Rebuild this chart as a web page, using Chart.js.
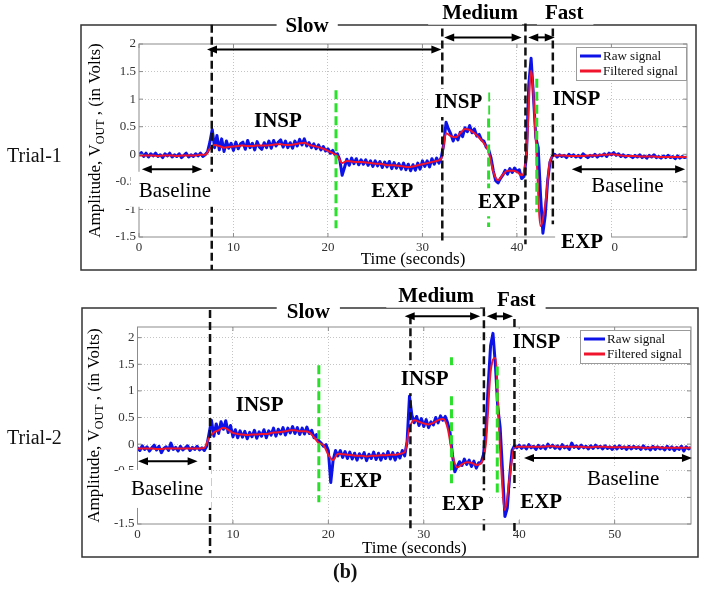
<!DOCTYPE html>
<html>
<head>
<meta charset="utf-8">
<script src="https://cdn.jsdelivr.net/npm/chart.js@4.4.1/dist/chart.umd.min.js"></script>
<style>
body { margin: 0; background: #fff; width: 705px; height: 593px; position: relative; overflow: hidden; font-family: "Liberation Serif", serif; }
canvas { position: absolute; left: 0; }
#trial1 { top: 0; }
#trial2 { top: 285px; }
.side { position: absolute; font-size: 20px; line-height: 20px; color: #111; }
</style>
</head>
<body>
<canvas id="trial1" width="705" height="285"></canvas>
<canvas id="trial2" width="705" height="308"></canvas>
<div class="side" style="left:7px;top:145px">Trial-1</div>
<div class="side" style="left:7px;top:427px">Trial-2</div>
<div class="side" style="left:333px;top:561px;font-weight:bold">(b)</div>
<script>
// axis ticks
var xTicks = [0, 10, 20, 30, 40, 50];
var yTicks = [-1.5, -1, -0.5, 0, 0.5, 1, 1.5, 2];

// sample spacing (seconds)
var rawStep = 0.25;
var filtStep = 0.5;

// Trial-1, raw signal (0 .. 58 s, 4 samples per second)
var raw1 = [
  -0.01, 0.03, -0.04, 0.02, -0.05, 0.01, -0.03, 0.02,          // 0-1
  -0.04, -0.01, -0.06, 0.01, -0.03, 0.02, -0.05, -0.01,        // 2-3
  -0.04, 0.01, -0.06, -0.02, 0.02, -0.05, -0.01, -0.04,        // 4-5
  0.01, -0.03, 0.02, -0.04, -0.01, 0.04, 0.22, 0.45,           // 6-7
  0.12, 0.34, 0.08, 0.28, 0.05, 0.24, 0.11, 0.2,               // 8-9
  0.07, 0.22, 0.1, 0.19, 0.22, 0.09, 0.25, 0.12,               // 10-11
  0.2, 0.08, 0.23, 0.13, 0.09, 0.21, 0.12, 0.24,               // 12-13
  0.11, 0.25, 0.15, 0.22, 0.26, 0.13, 0.24, 0.12,              // 14-15
  0.21, 0.11, 0.24, 0.15, 0.27, 0.17, 0.28, 0.15,              // 16-17
  0.21, 0.12, 0.19, 0.1, 0.17, 0.08, 0.14, 0.06,               // 18-19
  0.1, 0.02, 0.07, -0.01, 0.01, -0.1, -0.38, -0.24,            // 20-21
  -0.09, -0.2, -0.07, -0.17, -0.08, -0.19, -0.1, -0.18,        // 22-23
  -0.1, -0.2, -0.12, -0.22, -0.12, -0.21, -0.13, -0.24,        // 24-25
  -0.14, -0.23, -0.13, -0.26, -0.15, -0.25, -0.17, -0.27,      // 26-27
  -0.16, -0.28, -0.18, -0.3, -0.19, -0.29, -0.16, -0.27,       // 28-29
  -0.12, -0.22, -0.12, -0.23, -0.08, -0.18, -0.07, -0.16,      // 30-31
  -0.05, 0.18, 0.58, 0.46, 0.37, 0.24, 0.35, 0.26,             // 32-33
  0.4, 0.32, 0.48, 0.41, 0.52, 0.39, 0.46, 0.33,               // 34-35
  0.36, 0.26, 0.24, 0.13, 0.09, -0.06, -0.3, -0.48,            // 36-37
  -0.52, -0.44, -0.38, -0.29, -0.36, -0.26, -0.33, -0.25,      // 38-39
  -0.31, -0.28, -0.44, -0.4, -0.05, 1.25, 1.74, 1.05,          // 40-41
  0.3, 0.12, -0.75, -1.43, -1.1, -0.48, -0.14, -0.03,          // 42-43
  0.0, -0.05, -0.01, -0.04, -0.02, -0.06, 0.0, -0.04,          // 44-45
  -0.01, -0.05, -0.02, -0.06, 0.01, -0.03, -0.06, -0.02,       // 46-47
  -0.04, 0.0, -0.05, -0.01, -0.03, 0.01, -0.04, 0.02,          // 48-49
  -0.01, 0.03, -0.02, 0.01, -0.04, -0.01, -0.05, -0.02,        // 50-51
  -0.03, -0.06, -0.02, -0.05, -0.01, -0.06, -0.03, -0.07,      // 52-53
  -0.02, -0.05, -0.01, -0.06, -0.04, -0.07, -0.03, -0.06,      // 54-55
  -0.02, -0.06, -0.04, -0.08, -0.03, -0.07, -0.04, -0.06,      // 56-57
  -0.05                                                        // 58
];

// Trial-1, filtered signal (0 .. 58 s, 2 samples per second)
var filt1 = [
  -0.02, -0.02, -0.02, -0.02, -0.03, -0.02, -0.02, -0.02, -0.03, -0.02,   // 0-4.5
  -0.02, -0.02, -0.02, -0.01, -0.01, 0.1, 0.17, 0.15, 0.12, 0.13,         // 5-9.5
  0.14, 0.15, 0.16, 0.15, 0.15, 0.16, 0.16, 0.16, 0.17, 0.18,             // 10-14.5
  0.18, 0.17, 0.17, 0.18, 0.2, 0.21, 0.17, 0.15, 0.13, 0.1,               // 15-19.5
  0.06, 0.02, -0.03, -0.16, -0.12, -0.13, -0.14, -0.14, -0.15, -0.16,     // 20-24.5
  -0.17, -0.17, -0.19, -0.2, -0.2, -0.21, -0.22, -0.23, -0.22, -0.2,      // 25-29.5
  -0.18, -0.16, -0.14, -0.12, -0.08, 0.38, 0.33, 0.31, 0.38, 0.46,        // 30-34.5
  0.44, 0.38, 0.3, 0.2, 0.05, -0.32, -0.47, -0.37, -0.3, -0.3,            // 35-39.5
  -0.32, -0.38, 0.0, 1.52, 0.25, -1.3, -0.9, -0.12, -0.02, -0.02,         // 40-44.5
  -0.02, -0.03, -0.03, -0.03, -0.03, -0.02, -0.02, -0.02, -0.01, -0.01,   // 45-49.5
  0.0, -0.01, -0.02, -0.03, -0.03, -0.03, -0.04, -0.04, -0.04, -0.04,     // 50-54.5
  -0.05, -0.05, -0.05, -0.05, -0.05, -0.05, -0.05                         // 55-58
];

// Trial-2, raw signal
var raw2 = [
  -0.06, -0.12, -0.03, -0.1, -0.05, -0.13, -0.07, -0.02,       // 0-1
  -0.11, -0.04, -0.16, -0.08, -0.05, -0.12, 0.02, -0.1,        // 2-3
  -0.06, -0.13, -0.04, -0.11, -0.07, -0.03, -0.12, -0.06,      // 4-5
  -0.1, -0.04, -0.11, -0.07, -0.12, -0.04, 0.2, 0.45,          // 6-7
  0.15, 0.38, 0.2, 0.42, 0.28, 0.44, 0.22, 0.35,               // 8-9
  0.14, 0.27, 0.12, 0.25, 0.13, 0.24, 0.1, 0.22,               // 10-11
  0.14, 0.26, 0.11, 0.23, 0.15, 0.27, 0.12, 0.25,              // 12-13
  0.17, 0.3, 0.15, 0.28, 0.19, 0.31, 0.17, 0.3,                // 14-15
  0.21, 0.33, 0.2, 0.31, 0.18, 0.3, 0.19, 0.32,                // 16-17
  0.2, 0.26, 0.12, 0.18, 0.06, 0.02, -0.04, -0.01,             // 18-19
  -0.12, -0.72, -0.3, -0.12, -0.22, -0.12, -0.25, -0.14,       // 20-21
  -0.27, -0.15, -0.28, -0.17, -0.3, -0.18, -0.26, -0.16,       // 22-23
  -0.31, -0.19, -0.27, -0.15, -0.29, -0.17, -0.3, -0.18,       // 24-25
  -0.27, -0.14, -0.28, -0.16, -0.3, -0.17, -0.26, -0.12,       // 26-27
  -0.22, 0.05, 0.9, 0.55, 0.4, 0.52, 0.35, 0.48,               // 28-29
  0.33, 0.46, 0.31, 0.42, 0.36, 0.5, 0.4, 0.53,                // 30-31
  0.45, 0.52, 0.4, 0.22, -0.2, -0.52, -0.42, -0.33,            // 32-33
  -0.4, -0.28, -0.38, -0.3, -0.42, -0.32, -0.45, -0.35,        // 34-35
  -0.35, -0.2, 0.25, 1.1, 1.85, 2.08, 1.5, 0.7,                // 36-37
  0.32, -0.5, -1.36, -1.2, -0.6, -0.12, -0.03, -0.07,          // 38-39
  -0.02, -0.08, -0.03, -0.09, -0.01, -0.07, -0.04, -0.1,       // 40-41
  -0.02, -0.08, -0.03, -0.09, 0.0, -0.06, -0.02, -0.08,        // 42-43
  -0.03, -0.09, -0.01, -0.07, -0.04, -0.1, 0.02, -0.06,        // 44-45
  -0.03, -0.08, -0.02, -0.07, -0.04, -0.09, -0.03, -0.08,      // 46-47
  -0.02, -0.07, -0.04, -0.09, -0.03, -0.08, -0.05, -0.1,       // 48-49
  -0.04, -0.09, -0.03, -0.08, -0.05, -0.1, -0.04, -0.09,       // 50-51
  -0.04, -0.08, -0.05, -0.1, -0.03, -0.09, -0.06, -0.11,       // 52-53
  -0.04, -0.1, -0.05, -0.09, -0.06, -0.11, -0.04, -0.1,        // 54-55
  -0.05, -0.12, -0.06, -0.1, -0.04, -0.13, -0.05, -0.09,       // 56-57
  -0.06                                                        // 58
];

// Trial-2, filtered signal
var filt2 = [
  -0.08, -0.08, -0.08, -0.08, -0.09, -0.09, -0.08, -0.08, -0.08, -0.08,   // 0-4.5
  -0.08, -0.08, -0.08, -0.08, -0.07, 0.12, 0.22, 0.26, 0.31, 0.27,        // 5-9.5
  0.21, 0.19, 0.18, 0.17, 0.18, 0.18, 0.19, 0.19, 0.21, 0.22,             // 10-14.5
  0.23, 0.24, 0.26, 0.26, 0.24, 0.24, 0.22, 0.13, 0.02, -0.02,            // 15-19.5
  -0.2, -0.3, -0.18, -0.19, -0.2, -0.21, -0.22, -0.22, -0.23, -0.22,      // 20-24.5
  -0.22, -0.21, -0.21, -0.2, -0.2, -0.18, -0.15, 0.3, 0.45, 0.42,         // 25-29.5
  0.39, 0.37, 0.4, 0.45, 0.47, 0.3, -0.2, -0.44, -0.38, -0.34,            // 30-34.5
  -0.35, -0.39, -0.36, 0.0, 1.35, 1.62, -0.1, -1.24, -0.62, -0.05,        // 35-39.5
  -0.05, -0.05, -0.05, -0.05, -0.05, -0.05, -0.04, -0.04, -0.05, -0.05,   // 40-44.5
  -0.05, -0.05, -0.05, -0.05, -0.06, -0.06, -0.05, -0.05, -0.05, -0.06,   // 45-49.5
  -0.06, -0.06, -0.06, -0.06, -0.06, -0.06, -0.07, -0.07, -0.06, -0.06,   // 50-54.5
  -0.07, -0.07, -0.07, -0.07, -0.07, -0.07, -0.07                         // 55-58
];

// annotation layout, in data units of each panel
var trial1Figure = {
  frame: [81, 25, 696, 270],
  top: 44, right: 18, yAxisW: 139, xAxisH: 48, yMax: 2, titleGap: 23,
  markers: [
    { x: 7.7, from: 2.35, to: -2.1 },
    { x: 32.1, from: 2.28, to: -1.63 },
    { x: 40.9, from: 2.37, to: -1.63 },
    { x: 43.8, from: 2.28, to: -1.27 },
    { x: 20.85, from: 1.16, to: -1.34, green: true },
    { x: 37.0, from: 1.12, to: -1.32, green: true },
    { x: 42.1, from: 1.37, to: -1.05, green: true }
  ],
  labels: [
    { text: 'Slow', x: 17.8, y: 2.31, pad: [9, 9, 2, 2] },
    { text: 'Medium', x: 36.1, y: 2.55, pad: [14, 4, 2, 2] },
    { text: 'Fast', x: 45.0, y: 2.55, pad: [8, 10, 2, 2] },
    { text: 'INSP', x: 14.7, y: 0.59 },
    { text: 'INSP', x: 33.8, y: 0.93, pad: [6, 6, 5, 5] },
    { text: 'INSP', x: 46.3, y: 1.0, pad: [6, 6, 5, 5] },
    { text: 'EXP', x: 26.8, y: -0.67 },
    { text: 'EXP', x: 38.1, y: -0.87, pad: [5, 3, 5, 5] },
    { text: 'EXP', x: 46.9, y: -1.61, pad: [6, 8, 4, 4] },
    { text: 'Baseline', x: 3.8, y: -0.68, bold: false, pad: [8, 3, 11, 6] },
    { text: 'Baseline', x: 51.7, y: -0.59, bold: false }
  ],
  arrows: [
    { from: 7.2, to: 32.0, y: 1.9 },
    { from: 32.3, to: 40.5, y: 2.12 },
    { from: 41.2, to: 44.0, y: 2.12 },
    { from: 0.3, to: 6.7, y: -0.27 },
    { from: 45.8, to: 57.8, y: -0.27 }
  ]
};

var trial2Figure = {
  frame: [82, 23, 698, 272],
  top: 42, right: 14, yAxisW: 137.5, xAxisH: 69, yMax: 2.2, titleGap: 25,
  markers: [
    { x: 7.6, from: 2.52, to: -2.05 },
    { x: 28.6, from: 2.4, to: -1.65 },
    { x: 36.3, from: 2.55, to: -1.62 },
    { x: 39.5, from: 2.35, to: -1.65 },
    { x: 19.0, from: 1.48, to: -1.09, green: true },
    { x: 32.9, from: 1.63, to: -0.81, green: true },
    { x: 37.7, from: 1.46, to: -0.92, green: true }
  ],
  labels: [
    { text: 'Slow', x: 17.9, y: 2.48, pad: [10, 10, 2, 2] },
    { text: 'Medium', x: 31.3, y: 2.77, pad: [12, 6, 2, 2] },
    { text: 'Fast', x: 39.7, y: 2.7, pad: [12, 10, 2, 2] },
    { text: 'INSP', x: 12.8, y: 0.73 },
    { text: 'INSP', x: 30.1, y: 1.22, pad: [6, 6, 5, 5] },
    { text: 'INSP', x: 41.8, y: 1.9, pad: [6, 6, 5, 5] },
    { text: 'EXP', x: 23.4, y: -0.71 },
    { text: 'EXP', x: 34.1, y: -1.13, pad: [5, 5, 5, 6] },
    { text: 'EXP', x: 42.3, y: -1.09, pad: [10, 5, 5, 8] },
    { text: 'Baseline', x: 3.1, y: -0.86, bold: false, pad: [12, 8, 11, 9] },
    { text: 'Baseline', x: 50.9, y: -0.66, bold: false }
  ],
  arrows: [
    { from: 28.0, to: 35.9, y: 2.4 },
    { from: 36.6, to: 39.35, y: 2.4 },
    { from: 0.05, to: 6.3, y: -0.32 },
    { from: 40.5, to: 58.1, y: -0.26 }
  ]
};

var serif = '"Liberation Serif", serif';

function toPoints(values, step) {
  return values.map(function (v, i) { return { x: i * step, y: v }; });
}

// frame, phase markers, labels, arrows, legend and axis titles
function figureLayer(fig) {
  return {
    id: 'figureLayer',
    afterDraw: function (chart) {
      var ctx = chart.ctx, a = chart.chartArea;
      var xs = chart.scales.x, ys = chart.scales.y;
      function X(v) { return xs.getPixelForValue(v); }
      function Y(v) { return ys.getPixelForValue(v); }
      ctx.save();

      // outer frame
      ctx.strokeStyle = '#333';
      ctx.lineWidth = 1.5;
      ctx.strokeRect(fig.frame[0], fig.frame[1], fig.frame[2] - fig.frame[0], fig.frame[3] - fig.frame[1]);

      // axes box + inward ticks
      ctx.strokeStyle = '#8c8c8c';
      ctx.lineWidth = 1;
      ctx.strokeRect(a.left, a.top, a.right - a.left, a.bottom - a.top);
      ctx.beginPath();
      xs.ticks.forEach(function (t) {
        var px = X(t.value);
        ctx.moveTo(px, a.bottom); ctx.lineTo(px, a.bottom - 4);
        ctx.moveTo(px, a.top); ctx.lineTo(px, a.top + 4);
      });
      ys.ticks.forEach(function (t) {
        var py = Y(t.value);
        ctx.moveTo(a.left, py); ctx.lineTo(a.left + 4, py);
        ctx.moveTo(a.right, py); ctx.lineTo(a.right - 4, py);
      });
      ctx.stroke();

      // dashed phase markers
      fig.markers.forEach(function (m) {
        ctx.beginPath();
        if (m.green) {
          ctx.strokeStyle = '#2be02b'; ctx.lineWidth = 3; ctx.setLineDash([9, 4]);
        } else {
          ctx.strokeStyle = '#111'; ctx.lineWidth = 2.5; ctx.setLineDash([8, 4]);
        }
        ctx.moveTo(X(m.x), Y(m.from));
        ctx.lineTo(X(m.x), Y(m.to));
        ctx.stroke();
      });
      ctx.setLineDash([]);

      // text labels on white boxes
      ctx.textAlign = 'center';
      ctx.textBaseline = 'middle';
      fig.labels.forEach(function (l) {
        ctx.font = (l.bold === false ? '' : 'bold ') + '21px ' + serif;
        var w = ctx.measureText(l.text).width, cx = X(l.x), cy = Y(l.y);
        var p = l.pad || [5, 5, 4, 4];
        ctx.fillStyle = '#fff';
        ctx.fillRect(cx - w / 2 - p[0], cy - 9 - p[2], w + p[0] + p[1], 18 + p[2] + p[3]);
        ctx.fillStyle = '#000';
        ctx.fillText(l.text, cx, cy);
      });

      // double arrows
      ctx.strokeStyle = '#000';
      ctx.fillStyle = '#000';
      ctx.lineWidth = 2;
      fig.arrows.forEach(function (r) {
        var x0 = X(r.from), x1 = X(r.to), y = Y(r.y);
        ctx.beginPath(); ctx.moveTo(x0 + 5, y); ctx.lineTo(x1 - 5, y); ctx.stroke();
        [[x0, 1], [x1, -1]].forEach(function (h) {
          ctx.beginPath();
          ctx.moveTo(h[0], y);
          ctx.lineTo(h[0] + 10 * h[1], y - 4);
          ctx.lineTo(h[0] + 10 * h[1], y + 4);
          ctx.closePath();
          ctx.fill();
        });
      });

      // legend
      var lw = 110, lh = 33, lx = a.right - 1 - lw, ly = a.top + 3;
      ctx.fillStyle = '#fff';
      ctx.fillRect(lx, ly, lw, lh);
      ctx.strokeStyle = '#9a9a9a';
      ctx.lineWidth = 1;
      ctx.strokeRect(lx + 0.5, ly + 0.5, lw, lh);
      ctx.font = '13px ' + serif;
      ctx.textAlign = 'left';
      chart.data.datasets.forEach(function (ds, i) {
        var yy = ly + 9 + i * 15;
        ctx.strokeStyle = ds.borderColor;
        ctx.lineWidth = 3;
        ctx.beginPath(); ctx.moveTo(lx + 4, yy); ctx.lineTo(lx + 25, yy); ctx.stroke();
        ctx.fillStyle = '#111';
        ctx.fillText(ds.label, lx + 27, yy + 1);
      });

      // axis titles
      ctx.fillStyle = '#000';
      ctx.textAlign = 'center';
      ctx.font = '17px ' + serif;
      ctx.fillText('Time (seconds)', (a.left + a.right) / 2, a.bottom + fig.titleGap);

      ctx.translate(a.left - 43, (a.top + a.bottom) / 2);
      ctx.rotate(-Math.PI / 2);
      var p1 = 'Amplitude, V', sub = 'OUT', p2 = ' , (in Volts)';
      ctx.font = '17px ' + serif;
      var w1 = ctx.measureText(p1).width, w3 = ctx.measureText(p2).width;
      ctx.font = '12px ' + serif;
      var w2 = ctx.measureText(sub).width;
      var sx = -(w1 + w2 + w3) / 2;
      ctx.textAlign = 'left';
      ctx.font = '17px ' + serif;
      ctx.fillText(p1, sx, 0);
      ctx.font = '12px ' + serif;
      ctx.fillText(sub, sx + w1, 5);
      ctx.font = '17px ' + serif;
      ctx.fillText(p2, sx + w1 + w2, 0);

      ctx.restore();
    }
  };
}

function makeChart(id, raw, filt, fig) {
  var tickFont = { family: serif, size: 13 };
  return new Chart(document.getElementById(id), {
    type: 'line',
    data: {
      datasets: [{
        label: 'Raw signal',
        data: toPoints(raw, rawStep),
        borderColor: '#0c12e8',
        borderWidth: 3,
        borderJoinStyle: 'round',
        pointRadius: 0,
        tension: 0,
        order: 2
      }, {
        label: 'Filtered signal',
        data: toPoints(filt, filtStep),
        borderColor: '#f0142d',
        borderWidth: 2,
        pointRadius: 0,
        cubicInterpolationMode: 'monotone',
        order: 1
      }]
    },
    options: {
      responsive: false,
      animation: false,
      devicePixelRatio: 1,
      layout: { padding: { top: fig.top, right: fig.right, left: 0, bottom: 0 } },
      plugins: { legend: { display: false }, tooltip: { enabled: false } },
      scales: {
        x: {
          type: 'linear', min: 0, max: 58,
          afterBuildTicks: function (s) { s.ticks = xTicks.map(function (v) { return { value: v }; }); },
          afterFit: function (s) { s.height = fig.xAxisH; },
          grid: {
            drawTicks: false,
            color: function (c) { return c.tick && c.tick.value > 0 ? '#c4c4c4' : 'rgba(0,0,0,0)'; }
          },
          border: { display: false, dash: [1, 2] },
          ticks: { color: '#333', font: tickFont, padding: 3, maxRotation: 0, autoSkip: false,
                   callback: function (v) { return String(v); } }
        },
        y: {
          min: -1.5, max: fig.yMax,
          afterBuildTicks: function (s) { s.ticks = yTicks.map(function (v) { return { value: v }; }); },
          afterFit: function (s) { s.width = fig.yAxisW; },
          grid: {
            drawTicks: false,
            color: function (c) {
              return c.tick && c.tick.value > -1.5 && c.tick.value < fig.yMax ? '#c4c4c4' : 'rgba(0,0,0,0)';
            }
          },
          border: { display: false, dash: [1, 2] },
          ticks: { color: '#333', font: tickFont, padding: 3, autoSkip: false,
                   callback: function (v) { return String(v); } }
        }
      }
    },
    plugins: [figureLayer(fig)]
  });
}

makeChart('trial1', raw1, filt1, trial1Figure);
makeChart('trial2', raw2, filt2, trial2Figure);
</script>
</body>
</html>
